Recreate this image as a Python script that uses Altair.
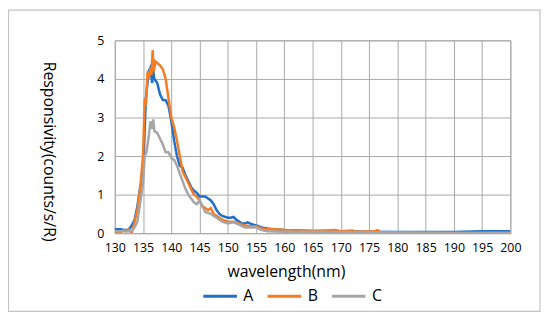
import altair as alt
import pandas as pd

wl_a = [130, 131, 132, 132.5, 133, 133.5, 134, 134.5, 135, 135.5, 136, 136.3, 136.6, 136.8, 137, 137.5, 138, 138.5, 139, 139.5, 140, 140.5, 141, 141.5, 142, 142.5, 143, 143.5, 144, 144.5, 145, 146, 147, 147.5, 148, 148.5, 149, 150, 150.5, 151, 151.5, 152, 152.5, 153, 153.5, 154, 155, 156, 157, 158, 160, 165, 170, 175, 180, 185, 190, 195, 200]
val_a = [0.1, 0.1, 0.08, 0.1, 0.2, 0.35, 0.7, 1.2, 1.5, 3.5, 4.2, 4.3, 3.9, 4.2, 4.0, 3.9, 3.6, 3.45, 3.45, 3.3, 2.9, 2.4, 2.0, 1.75, 1.7, 1.5, 1.35, 1.2, 1.1, 1.05, 0.95, 0.95, 0.85, 0.75, 0.6, 0.5, 0.45, 0.4, 0.4, 0.42, 0.35, 0.3, 0.25, 0.25, 0.28, 0.25, 0.2, 0.15, 0.12, 0.1, 0.08, 0.06, 0.05, 0.04, 0.03, 0.03, 0.03, 0.05, 0.05]

wl_b = [130, 131, 131.5, 132, 132.5, 133, 133.5, 134, 134.5, 135, 135.3, 135.5, 135.8, 136, 136.3, 136.5, 136.7, 136.9, 137.2, 137.6, 138, 138.5, 139, 139.5, 140, 140.5, 141, 141.5, 142, 142.5, 143, 143.5, 144, 144.5, 145, 145.5, 146, 146.5, 147, 147.5, 148, 149, 150, 151, 152, 153, 154, 155, 156, 157, 158, 159, 160, 162, 165, 169, 170, 172, 173, 176, 176.5, 177, 180, 190, 195, 200]
val_b = [0.0, 0.02, 0.08, 0.05, 0.1, 0.0, 0.3, 0.6, 1.2, 2.0, 3.5, 3.3, 4.2, 4.0, 4.3, 4.1, 4.75, 4.2, 4.45, 4.4, 4.35, 4.25, 4.0, 3.5, 3.0, 2.75, 2.4, 2.0, 1.6, 1.45, 1.3, 1.15, 1.0, 0.95, 0.85, 0.7, 0.65, 0.6, 0.65, 0.5, 0.45, 0.35, 0.3, 0.3, 0.25, 0.2, 0.18, 0.18, 0.12, 0.1, 0.1, 0.1, 0.08, 0.07, 0.06, 0.08, 0.05, 0.07, 0.04, 0.05, 0.08, 0.03, 0.02, 0.0, 0.0, 0.0]

wl_c = [130, 132, 133, 133.5, 134, 134.5, 135, 135.3, 135.6, 136, 136.3, 136.6, 136.8, 137, 137.5, 138, 138.5, 139, 139.5, 140, 140.5, 141, 141.5, 142, 142.5, 143, 143.5, 144, 144.5, 145, 145.5, 146, 147, 148, 149, 150, 151, 152, 153, 154, 155, 156, 157, 160, 165, 170, 180, 190, 200]
val_c = [0.05, 0.05, 0.05, 0.15, 0.3, 0.8, 1.3, 2.0, 2.1, 2.5, 2.9, 2.7, 2.95, 2.65, 2.6, 2.45, 2.3, 2.1, 2.1, 1.95, 1.9, 1.75, 1.55, 1.35, 1.15, 1.0, 0.9, 0.8, 0.75, 0.85, 0.7, 0.55, 0.5, 0.4, 0.3, 0.25, 0.28, 0.22, 0.15, 0.15, 0.15, 0.08, 0.05, 0.04, 0.04, 0.03, 0.02, 0.01, 0.01]

series = ["A", "B", "C"]
colors = ["#1f6fcc", "#f57c22", "#a6a6a6"]
x_ticks = list(range(130, 201, 5))
y_ticks = [0, 1, 2, 3, 4, 5]

rows = []
for name, xs, ys in zip(series, [wl_a, wl_b, wl_c], [val_a, val_b, val_c]):
    for i, (x, y) in enumerate(zip(xs, ys)):
        rows.append({"series": name, "wl": x, "val": y, "order": i})
df = pd.DataFrame(rows)

FONT = "Open Sans"
W, H = 400, 195

lines = alt.Chart(df).mark_line(strokeWidth=2.5, clip=True).encode(
    x=alt.X("wl:Q", scale=alt.Scale(domain=[130, 200], nice=False, zero=False, padding=0),
            axis=alt.Axis(values=x_ticks, title="wavelength(nm)", grid=True, ticks=False,
                          domain=False, labelPadding=9, labelFontSize=12.5, labelOverlap=False,
                          labelFlush=False,
                          titleFontSize=16, titleFontWeight="normal",
                          titleX=173, titleY=39, titleBaseline="middle", titleAlign="center")),
    y=alt.Y("val:Q", scale=alt.Scale(domain=[0, 5], nice=False, padding=0),
            axis=alt.Axis(values=y_ticks, title="Responsivity(counts/s/R)", grid=True,
                          ticks=False, domain=False, labelPadding=11, labelFontSize=12.5,
                          labelOverlap=False, labelFlush=False,
                          titleFontSize=16, titleFontWeight="normal", titleAngle=90,
                          titleX=-67, titleY=112, titleAlign="center", titleBaseline="middle")),
    color=alt.Color("series:N", scale=alt.Scale(domain=series, range=colors),
                    legend=alt.Legend(title=None, orient="none", legendX=88, legendY=240,
                                      direction="horizontal", symbolType="stroke",
                                      symbolSize=1156, symbolStrokeWidth=3,
                                      labelFontSize=16, columnPadding=7, labelOffset=5)),
    order="order:Q",
)

border = alt.Chart(pd.DataFrame({"a": [0]})).mark_rect(
    filled=False, stroke="#c4c4c4", strokeWidth=1.2
).encode(
    x=alt.value(-107.5), x2=alt.value(430), y=alt.value(-30.5), y2=alt.value(274)
)

chart = alt.layer(lines, border).properties(
    width=W, height=H,
    autosize=alt.AutoSizeParams(type="none"),
    padding={"left": 108, "top": 31, "right": 32, "bottom": 80},
).configure_axis(
    gridColor="#a9a9a9", gridWidth=1, labelFont=FONT, titleFont=FONT,
    labelColor="#000000", titleColor="#000000",
).configure_legend(
    labelFont=FONT, labelColor="#000000",
).configure_view(stroke="#a9a9a9")

chart.save("out.html", embed_options={"renderer": "svg", "actions": False})
